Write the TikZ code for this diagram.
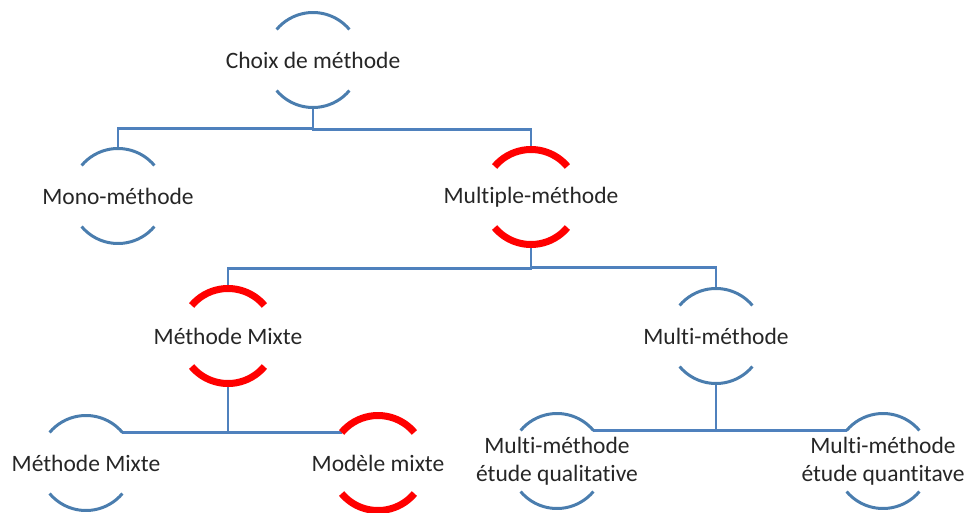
\documentclass[tikz,border=0pt]{standalone}
\usepackage{fontspec}
\setmainfont{Carlito}[Ligatures=NoCommon]
\begin{document}
\begin{tikzpicture}[x=1pt,y=1pt,
  ring/.style={circle,draw=none,inner sep=0pt,outer sep=0pt,minimum size=95pt},
  caption/.style={font=\fontsize{23.5}{28}\selectfont,text=black!85,align=center,inner sep=0pt},
  bluearc/.style={draw={rgb,255:red,74;green,125;blue,174},line width=3pt},
  redarc/.style={draw=red,line width=7pt},
  link/.style={draw={rgb,255:red,79;green,129;blue,189},line width=2.2pt}]
\useasboundingbox (0,0) rectangle (969,-512);

% tree nodes (text sits in the middle of each ring)
\node[ring,label={[caption]center:Choix de méthode}] (choix) at (313,-60) {};
\node[ring,label={[caption]center:Mono-méthode}] (mono) at (118,-196) {};
\node[ring,label={[caption]center:Multiple-méthode}] (multiple) at (531,-197) {};
\node[ring,label={[caption]center:Méthode Mixte}] (mixte) at (228,-336) {};
\node[ring,label={[caption]center:Multi-méthode}] (multi) at (716,-336) {};
\node[ring,label={[caption]center:Méthode Mixte}] (mixteb) at (86,-463) {};
\node[ring,label={[caption]center:Modèle mixte}] (modele) at (378,-463) {};
\node[ring,label={[caption]center:Multi-méthode\\étude qualitative}] (qual) at (557,-461) {};
\node[ring,label={[caption]center:Multi-méthode\\étude quantitave}] (quant) at (883,-461) {};

% connectors
\draw[link] (choix.south) |- ([yshift=20pt]mono.north) -- (mono.north);
\draw[link] (choix.south) |- ([yshift=20pt]multiple.north) -- (multiple.north);
\draw[link] (multiple.south) |- ([yshift=20pt]mixte.north) -- (mixte.north);
\draw[link] (multiple.south) |- ([yshift=21pt]multi.north) -- (multi.north);
\draw[link] (mixte.south) |- (mixteb.40);
\draw[link] (mixte.south) |- (modele.140);
\draw[link] (multi.south) |- (qual.40);
\draw[link] (multi.south) |- (quant.140);

% upper and lower arcs of each ring
\foreach \n/\s in {choix/bluearc,mono/bluearc,multiple/redarc,mixte/redarc,
                   multi/bluearc,mixteb/bluearc,modele/redarc,qual/bluearc,quant/bluearc}{
  \draw[\s] (\n.40) arc[start angle=40,end angle=140,radius=47.5pt];
  \draw[\s] (\n.220) arc[start angle=220,end angle=320,radius=47.5pt];
}
\end{tikzpicture}
\end{document}
